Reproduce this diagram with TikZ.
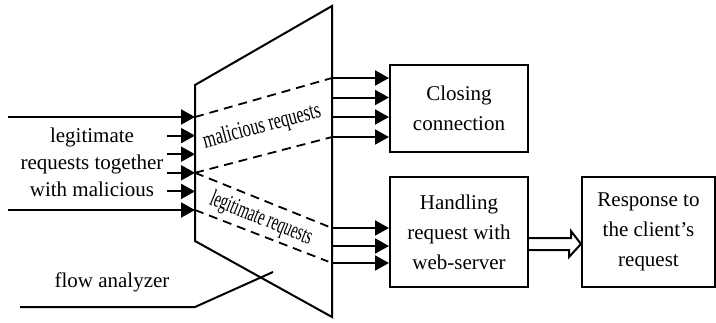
\documentclass[tikz,border=0pt]{standalone}
\usepackage{fontspec}
\usepackage{graphicx}
\setmainfont{Liberation Serif}
\usetikzlibrary{arrows.meta,calc}
\begin{document}
\begin{tikzpicture}[x=1pt,y=-1pt, line width=2pt,
  arr/.style={-{Triangle[length=14pt,width=15pt]}},
  dsh/.style={line width=1.8pt, dash pattern=on 9pt off 6pt},
  txt/.style={font=\fontsize{21}{27}\selectfont, align=center, inner sep=0pt},
  slant/.style={font=\fontsize{24}{27}\selectfont, inner sep=0pt},
  box/.style={draw, line width=2pt, align=center, inner sep=0pt,
    font=\fontsize{21}{30}\selectfont}]
\useasboundingbox (0,0) rectangle (716,322);
% boxes
\node[box, minimum width=138pt, minimum height=87pt] (close) at (459,108.5) {Closing\\connection};
\node[box, minimum width=138pt, minimum height=110pt] (hand) at (459,232) {Handling\\request with\\web-server};
\node[box, minimum width=133pt, minimum height=110pt] (resp) at (648.5,232) {Response to\\the client’s\\request};
% analyzer trapezoid
\coordinate (tl) at (195,85);
\coordinate (tr) at (332,6);
\coordinate (br) at (332,317);
\coordinate (bl) at (195,241);
\draw[line join=miter] (tl) -- (tr) -- (br) -- (bl) -- cycle;
% input arrows
\foreach \y/\s [count=\i] in {117/8,135.6/167,154.2/167,172.8/167,191.4/167,210/8}{
  \coordinate (a\i) at (\s,\y);
  \coordinate (b\i) at (195,\y);
  \draw[arr] (a\i) -- (b\i);
}
% output arrows to closing
\foreach \y [count=\i] in {78,97.5,117,137}{
  \coordinate (o\i) at (332,\y);
  \draw[arr] (o\i) -- (close.west |- o\i);
}
% output arrows to handling
\foreach \y [count=\i] in {228,246,263}{
  \coordinate (p\i) at (332,\y);
  \draw[arr] (p\i) -- (hand.west |- p\i);
}
% dashed flows
\draw[dsh] (b1) -- (o1);
\draw[dsh] (b4) -- (o4);
\draw[dsh, shorten >=4pt] (b4) -- (p1);
\draw[dsh, shorten >=4pt] (b6) -- (p3);
% flow labels
\node[slant, rotate=15] (mal) at (262,127) {\scalebox{0.68}[1]{malicious requests}};
\node[slant, rotate=-22] (leg) at (261,219) {\scalebox{0.6}[1]{legitimate requests}};
% left label
\node[txt] (lt) at (92,162) {legitimate\\requests together\\with malicious};
% flow analyzer pointer
\coordinate (fa0) at (20,307);
\coordinate (fa1) at (195,307);
\coordinate (fa2) at (273,272);
\draw (fa0) -- (fa1) -- (fa2);
\node[txt] (fa) at (112,282) {flow analyzer};
% double arrow
\draw[line join=miter] ($(hand.east)+(0,6)$) -- ++(42,0) -- ++(0,-7) -- ($(resp.west)+(0,12)$)
  -- ++(-12,13) -- ++(0,-7) -- ($(hand.east)+(0,18)$);
\end{tikzpicture}
\end{document}
